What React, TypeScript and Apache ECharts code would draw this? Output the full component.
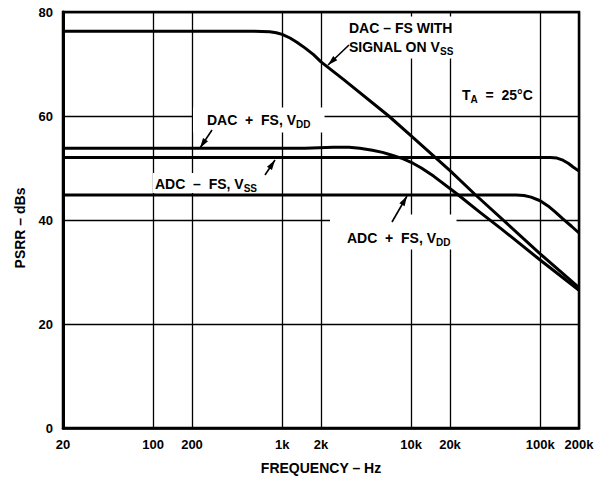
import React, { useEffect, useRef } from "react";
import * as echarts from "echarts";

// ---- data ----
const xTickValues = [20, 100, 200, 1000, 2000, 10000, 20000, 100000, 200000];
const xTickLabels = ["20", "100", "200", "1k", "2k", "10k", "20k", "100k", "200k"];

const dacMinusFreq = [20, 600, 800, 900, 1000, 1150, 1300, 1500, 1750, 2000, 3000, 6700, 10000, 20000, 31000, 100000, 200000];
const dacMinusDb = [76.3, 76.3, 76.2, 76.0, 75.7, 75.0, 74.2, 73.1, 71.8, 70.4, 67, 60, 56.2, 49.5, 45, 33.5, 27];

const dacPlusFreq = [20, 1500, 2500, 3300, 4000, 5000, 6000, 7000, 8600, 10000, 12000, 15000, 22700, 34000, 50000, 100000, 200000];
const dacPlusDb = [53.8, 53.8, 54, 54, 53.8, 53.4, 53, 52.5, 51.8, 51.1, 50, 48.4, 45, 41.5, 38.3, 32.3, 26.5];

const adcMinusFreq = [20, 120000, 135000, 150000, 165000, 180000, 200000];
const adcMinusDb = [52, 52, 51.9, 51.5, 50.9, 50.2, 49.4];

const adcPlusFreq = [20, 65000, 75000, 85000, 100000, 115000, 130000, 150000, 175000, 200000];
const adcPlusDb = [44.8, 44.8, 44.7, 44.4, 43.7, 42.7, 41.6, 40.2, 38.8, 37.5];

const FONT = "'Liberation Sans', Arial, Helvetica, sans-serif";

// ---- annotation layout (pixels) ----
const annotations = [
  { text: "{a|DAC – FS WITH}\n{a|SIGNAL ON V}{s|SS}", x: 349, y: 37.5, pad: [2, 2, 2, 2] },
  { text: "{a|T}{s|A}{a|  =  25°C}", x: 462, y: 95, pad: [2, 2, 2, 2] },
  { text: "{a|DAC  +  FS, V}{s|DD}", x: 207, y: 120, pad: [3, 14, 3, 14] },
  { text: "{a|ADC  –  FS, V}{s|SS}", x: 155, y: 183, pad: [1, 2, 0, 2] },
  { text: "{a|ADC  +  FS, V}{s|DD}", x: 347, y: 232, pad: [14, 6, 2, 17] },
];
const arrows = [
  { from: [349, 45], to: [328, 65] },
  { from: [212, 130], to: [200, 148] },
  { from: [265, 175], to: [275, 160] },
  { from: [392, 222], to: [407, 196] },
];

function pairs(f: number[], v: number[]) {
  return f.map((x, i) => [x, v[i]]);
}

function arrowHead(from: number[], to: number[], len = 10, half = 3) {
  const dx = to[0] - from[0];
  const dy = to[1] - from[1];
  const d = Math.hypot(dx, dy);
  const ux = dx / d, uy = dy / d;
  const bx = to[0] - ux * len, by = to[1] - uy * len;
  return [
    [to[0], to[1]],
    [bx - uy * half, by + ux * half],
    [bx + uy * half, by - ux * half],
  ];
}

export default function App() {
  const ref = useRef<HTMLDivElement>(null);
  useEffect(() => {
    document.body.style.margin = "0";
    const chart = echarts.init(ref.current!, null, { renderer: "svg" });
    const lineSeries = (name: string, data: number[][]) => ({
      name,
      type: "line",
      data,
      showSymbol: false,
      smooth: false,
      z: 5,
      lineStyle: { color: "#000", width: 3, join: "round" },
    });
    const graphic: any[] = [];
    annotations.forEach((a) => {
      graphic.push({
        type: "text",
        x: a.x - a.pad[3],
        y: a.y,
        z: 4,
        style: {
          text: a.text,
          textAlign: "left",
          textVerticalAlign: "middle",
          backgroundColor: "#fff",
          padding: a.pad,
          rich: {
            a: { fontSize: 14, fontWeight: "bold", fontFamily: FONT, fill: "#000", lineHeight: 19 },
            s: { fontSize: 10, fontWeight: "bold", fontFamily: FONT, fill: "#000", lineHeight: 11, verticalAlign: "bottom" },
          },
        },
      });
    });
    arrows.forEach((ar) => {
      graphic.push({
        type: "line",
        z: 6,
        shape: { x1: ar.from[0], y1: ar.from[1], x2: ar.to[0], y2: ar.to[1] },
        style: { stroke: "#000", lineWidth: 1.6 },
      });
      graphic.push({
        type: "polygon",
        z: 6,
        shape: { points: arrowHead(ar.from, ar.to) },
        style: { fill: "#000" },
      });
    });

    chart.setOption({
      animation: false,
      backgroundColor: "#fff",
      grid: {
        left: 63, right: 24, top: 12, bottom: 52,
        outerBoundsMode: "none",
        containLabel: false,
        show: true, borderColor: "#000", borderWidth: 2.5, backgroundColor: "transparent",
      },
      xAxis: {
        type: "log",
        logBase: 10,
        min: 20,
        max: 200000,
        name: "FREQUENCY – Hz",
        nameLocation: "middle",
        nameGap: 33,
        nameTextStyle: { color: "#000", fontSize: 14, fontWeight: "bold", fontFamily: FONT },
        axisLine: { show: true, lineStyle: { color: "#000", width: 2.5 } },
        axisTick: { show: false, customValues: xTickValues },
        minorTick: { show: false },
        axisLabel: {
          customValues: xTickValues,
          color: "#000",
          fontSize: 13,
          fontWeight: "bold",
          fontFamily: FONT,
          margin: 10,
          formatter: (v: number) => {
            const i = xTickValues.findIndex((t) => Math.abs(t - v) / t < 1e-6);
            return i >= 0 ? xTickLabels[i] : "";
          },
        },
        splitLine: { show: true, lineStyle: { color: "#000", width: 1.3 } },
      },
      yAxis: {
        type: "value",
        min: 0,
        max: 80,
        interval: 20,
        name: "PSRR – dBs",
        nameLocation: "middle",
        nameRotate: 90,
        nameGap: 36,
        nameTextStyle: { color: "#000", fontSize: 14, fontWeight: "bold", fontFamily: FONT, padding: [0, 16, 0, 0] },
        axisLine: { show: true, lineStyle: { color: "#000", width: 3 } },
        axisTick: { show: false },
        axisLabel: { color: "#000", fontSize: 13, fontWeight: "bold", fontFamily: FONT, margin: 10 },
        splitLine: { show: true, lineStyle: { color: "#000", width: 1.3 } },
      },
      series: [
        lineSeries("DAC – FS with signal on VSS", pairs(dacMinusFreq, dacMinusDb)),
        lineSeries("DAC + FS, VDD", pairs(dacPlusFreq, dacPlusDb)),
        lineSeries("ADC – FS, VSS", pairs(adcMinusFreq, adcMinusDb)),
        lineSeries("ADC + FS, VDD", pairs(adcPlusFreq, adcPlusDb)),
      ],
      graphic,
    });
    return () => chart.dispose();
  }, []);
  return <div ref={ref} style={{ width: 603, height: 480 }} />;
}
